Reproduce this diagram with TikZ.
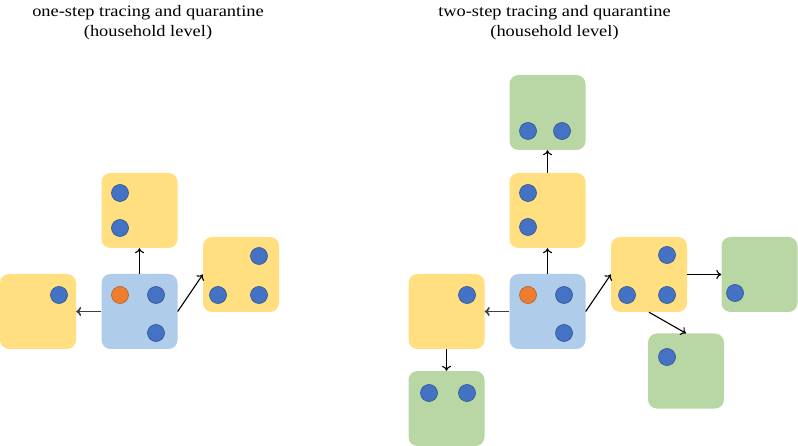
\documentclass[tikz,border=0pt]{standalone}
\usepackage{fontspec}
\setmainfont{Liberation Serif}
\newfontfamily\titlefont[FakeStretch=1.15]{Liberation Serif}
\usetikzlibrary{arrows.meta}
\definecolor{hyellow}{HTML}{FFDF80}
\definecolor{hblue}{HTML}{AFCDEA}
\definecolor{hgreen}{HTML}{B8D7A5}
\definecolor{pblue}{HTML}{4472C4}
\definecolor{pblueedge}{HTML}{2F528F}
\definecolor{porange}{HTML}{ED7D31}
\definecolor{porangeedge}{HTML}{B05F24}
\tikzset{
  house/.style={rectangle, rounded corners=9pt, inner sep=0pt, minimum width=76pt, minimum height=75pt, draw=none},
  yhouse/.style={house, fill=hyellow},
  bhouse/.style={house, fill=hblue},
  ghouse/.style={house, fill=hgreen},
  person/.style={circle, inner sep=0pt, minimum size=17pt, fill=pblue, draw=pblueedge, line width=0.6pt},
  index/.style={circle, inner sep=0pt, minimum size=17pt, fill=porange, draw=porangeedge, line width=0.6pt},
  link/.style={draw=black, line width=1.1pt, -{To[length=5pt,width=9pt]}},
  title/.style={align=center, font=\titlefont\fontsize{16}{20}\selectfont, inner sep=0pt, anchor=north}
}
\begin{document}
\begin{tikzpicture}[x=1pt,y=-1pt]
\useasboundingbox (0,0) rectangle (798,446);
% titles
\node[title] (t1) at (148,5.5) {one-step tracing and quarantine\\(household level)};
\node[title] (t2) at (554.5,5.5) {two-step tracing and quarantine\\(household level)};
% left panel houses
\node[bhouse] (Lb) at (139.5,311.5) {};
\node[yhouse] (Lt) at (139.5,210.5) {};
\node[yhouse] (Ll) at (38,311.5) {};
\node[yhouse] (Lr) at (241,274.5) {};
% left panel people
\node[index]  (Lb1) at (120,295) {};
\node[person] (Lb2) at (156,295) {};
\node[person] (Lb3) at (156,333) {};
\node[person] (Lt1) at (120,193) {};
\node[person] (Lt2) at (120,228) {};
\node[person] (Ll1) at (59,295) {};
\node[person] (Lr1) at (259,256) {};
\node[person] (Lr2) at (218,295) {};
\node[person] (Lr3) at (259,295) {};
% left panel links
\draw[link] (Lb.north) -- (Lt.south);
\draw[link, draw=black!75, line width=1.6pt] (Lb.west) -- (Ll.east);
\draw[link] (Lb.east) -- (Lr.west);
% right panel houses
\node[bhouse] (Rb) at (547.5,311.5) {};
\node[yhouse] (Rt) at (547.5,210.5) {};
\node[ghouse] (Rtg) at (547.5,112.5) {};
\node[yhouse] (Rl) at (446.5,311.5) {};
\node[ghouse] (Rlg) at (446.5,408.5) {};
\node[yhouse] (Rr) at (649,274.5) {};
\node[ghouse] (Rrg) at (759.5,274.5) {};
\node[ghouse] (Rdg) at (686,371) {};
% right panel people
\node[index]  (Rb1) at (528,295) {};
\node[person] (Rb2) at (564,295) {};
\node[person] (Rb3) at (564,333) {};
\node[person] (Rt1) at (528,193) {};
\node[person] (Rt2) at (528,227) {};
\node[person] (Rtg1) at (528,131) {};
\node[person] (Rtg2) at (562,131) {};
\node[person] (Rl1) at (467,295) {};
\node[person] (Rlg1) at (429,393) {};
\node[person] (Rlg2) at (467,393) {};
\node[person] (Rr1) at (667,255) {};
\node[person] (Rr2) at (627,295) {};
\node[person] (Rr3) at (667,295) {};
\node[person] (Rrg1) at (735,293) {};
\node[person] (Rdg1) at (667,357) {};
% right panel links
\draw[link] (Rb.north) -- (Rt.south);
\draw[link] (Rt.north) -- (Rtg.south);
\draw[link, draw=black!75, line width=1.6pt] (Rb.west) -- (Rl.east);
\draw[link] (Rl.south) -- (Rlg.north);
\draw[link] (Rb.east) -- (Rr.west);
\draw[link] (Rr.east) -- (Rrg.west);
\draw[link] (Rr.south) -- (Rdg.north);
\end{tikzpicture}
\end{document}
